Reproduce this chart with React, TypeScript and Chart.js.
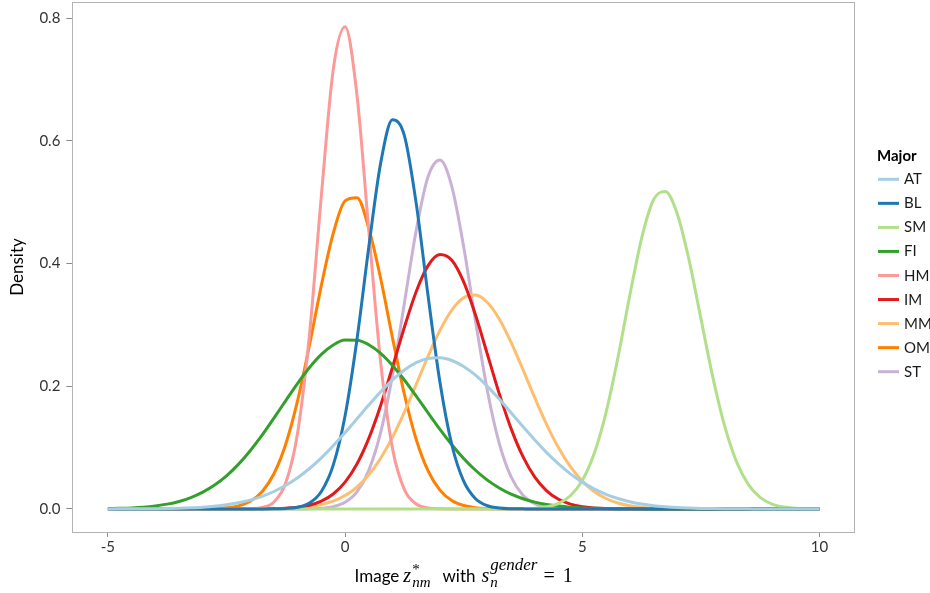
import React, { useEffect, useRef } from 'react';
import { Chart, registerables } from 'chart.js';

Chart.register(...registerables);

// ---------- data ----------
const xGrid = [
  -5, -4.75, -4.5, -4.25, -4, -3.75, -3.5, -3.25, -3, -2.75,
  -2.5, -2.25, -2, -1.75, -1.5, -1.25, -1, -0.75, -0.5, -0.25,
  0, 0.25, 0.5, 0.75, 1, 1.25, 1.5, 1.75, 2, 2.25,
  2.5, 2.75, 3, 3.25, 3.5, 3.75, 4, 4.25, 4.5, 4.75,
  5, 5.25, 5.5, 5.75, 6, 6.25, 6.5, 6.75, 7, 7.25,
  7.5, 7.75, 8, 8.25, 8.5, 8.75, 9, 9.25, 9.5, 9.75,
  10,
];

const AT = [
  0, 0.0001, 0.0001, 0.0002, 0.0004, 0.0007, 0.0011, 0.0018, 0.0028, 0.0044,
  0.0067, 0.0100, 0.0144, 0.0205, 0.0284, 0.0385, 0.0509, 0.0659, 0.0833, 0.1030,
  0.1244, 0.1468, 0.1693, 0.1909, 0.2103, 0.2264, 0.2383, 0.2450, 0.2463, 0.2419,
  0.2322, 0.2179, 0.1997, 0.1790, 0.1567, 0.1342, 0.1122, 0.0917, 0.0733, 0.0572,
  0.0437, 0.0326, 0.0237, 0.0169, 0.0118, 0.0080, 0.0053, 0.0035, 0.0022, 0.0014,
  0.0008, 0.0005, 0.0003, 0.0002, 0.0001, 0, 0, 0, 0, 0,
  0,
];

const BL = [
  0, 0, 0, 0, 0, 0, 0, 0, 0, 0,
  0, 0, 0, 0, 0.0001, 0.0007, 0.0028, 0.0097, 0.0285, 0.0713,
  0.1519, 0.2758, 0.4269, 0.5635, 0.6341, 0.6084, 0.4975, 0.3470, 0.2063, 0.1046,
  0.0452, 0.0166, 0.0052, 0.0014, 0.0003, 0.0001, 0, 0, 0, 0,
  0, 0, 0, 0, 0, 0, 0, 0, 0, 0,
  0, 0, 0, 0, 0, 0, 0, 0, 0, 0,
  0,
];

const SM = [
  0, 0, 0, 0, 0, 0, 0, 0, 0, 0,
  0, 0, 0, 0, 0, 0, 0, 0, 0, 0,
  0, 0, 0, 0, 0, 0, 0, 0, 0, 0,
  0, 0, 0, 0, 0.0001, 0.0003, 0.0011, 0.0034, 0.0090, 0.0215,
  0.0464, 0.0899, 0.1567, 0.2458, 0.3470, 0.4406, 0.5034, 0.5174, 0.4815, 0.4062,
  0.3109, 0.2157, 0.1358, 0.0775, 0.0401, 0.0188, 0.0080, 0.0031, 0.0011, 0.0003,
  0.0001,
];

const FI = [
  0.0005, 0.0010, 0.0017, 0.0029, 0.0049, 0.0078, 0.0122, 0.0185, 0.0273, 0.0389,
  0.0539, 0.0726, 0.0948, 0.1201, 0.1479, 0.1766, 0.2048, 0.2305, 0.2519, 0.2672,
  0.2751, 0.2750, 0.2676, 0.2536, 0.2339, 0.2101, 0.1838, 0.1565, 0.1297, 0.1047,
  0.0823, 0.0630, 0.0469, 0.0341, 0.0240, 0.0166, 0.0111, 0.0072, 0.0046, 0.0028,
  0.0017, 0.0010, 0.0006, 0.0003, 0.0002, 0.0001, 0, 0, 0, 0,
  0, 0, 0, 0, 0, 0, 0, 0, 0, 0,
  0,
];

const HM = [
  0, 0, 0, 0, 0, 0, 0, 0, 0, 0,
  0, 0, 0.0004, 0.0024, 0.0114, 0.0425, 0.1243, 0.2848, 0.5105, 0.7158,
  0.7856, 0.6749, 0.4538, 0.2387, 0.0983, 0.0316, 0.0080, 0.0016, 0.0002, 0,
  0, 0, 0, 0, 0, 0, 0, 0, 0, 0,
  0, 0, 0, 0, 0, 0, 0, 0, 0, 0,
  0, 0, 0, 0, 0, 0, 0, 0, 0, 0,
  0,
];

const IM = [
  0, 0, 0, 0, 0, 0, 0, 0, 0, 0,
  0, 0, 0, 0.0002, 0.0005, 0.0012, 0.0028, 0.0061, 0.0126, 0.0243,
  0.0436, 0.0732, 0.1149, 0.1686, 0.2311, 0.2960, 0.3544, 0.3965, 0.4146, 0.4052,
  0.3700, 0.3159, 0.2520, 0.1879, 0.1309, 0.0852, 0.0518, 0.0295, 0.0157, 0.0078,
  0.0036, 0.0016, 0.0006, 0.0002, 0.0001, 0, 0, 0, 0, 0,
  0, 0, 0, 0, 0, 0, 0, 0, 0, 0,
  0,
];

const MM = [
  0, 0, 0, 0, 0, 0, 0, 0, 0, 0,
  0, 0, 0.0001, 0.0002, 0.0004, 0.0009, 0.0019, 0.0038, 0.0071, 0.0128,
  0.0219, 0.0357, 0.0557, 0.0827, 0.1170, 0.1578, 0.2030, 0.2488, 0.2909, 0.3241,
  0.3442, 0.3485, 0.3364, 0.3095, 0.2715, 0.2270, 0.1810, 0.1375, 0.0996, 0.0688,
  0.0453, 0.0284, 0.0170, 0.0097, 0.0053, 0.0027, 0.0013, 0.0006, 0.0003, 0.0001,
  0, 0, 0, 0, 0, 0, 0, 0, 0, 0,
  0,
];

const OM = [
  0, 0, 0, 0, 0, 0, 0, 0, 0.0002, 0.0006,
  0.0018, 0.0049, 0.0124, 0.0280, 0.0573, 0.1059, 0.1770, 0.2671, 0.3644, 0.4490,
  0.5020, 0.5070, 0.4573, 0.3756, 0.2788, 0.1869, 0.1132, 0.0620, 0.0307, 0.0137,
  0.0055, 0.0020, 0.0007, 0.0002, 0, 0, 0, 0, 0, 0,
  0, 0, 0, 0, 0, 0, 0, 0, 0, 0,
  0, 0, 0, 0, 0, 0, 0, 0, 0, 0,
  0,
];

const ST = [
  0, 0, 0, 0, 0, 0, 0, 0, 0, 0,
  0, 0, 0, 0, 0, 0, 0, 0.0003, 0.0011, 0.0037,
  0.0108, 0.0278, 0.0628, 0.1246, 0.2179, 0.3353, 0.4542, 0.5416, 0.5685, 0.5253,
  0.4272, 0.3058, 0.1927, 0.1069, 0.0522, 0.0224, 0.0085, 0.0028, 0.0008, 0.0002,
  0, 0, 0, 0, 0, 0, 0, 0, 0, 0,
  0, 0, 0, 0, 0, 0, 0, 0, 0, 0,
  0,
];

const seriesNames = ['AT', 'BL', 'SM', 'FI', 'HM', 'IM', 'MM', 'OM', 'ST'];
const seriesValues = [AT, BL, SM, FI, HM, IM, MM, OM, ST];
const seriesColors = ['#a6cee3', '#1f78b4', '#b2df8a', '#33a02c', '#fb9a99', '#e31a1c', '#fdbf6f', '#ff7f00', '#cab2d6'];

const xTicks = [-5, 0, 5, 10];
const yTicks = [0, 0.2, 0.4, 0.6, 0.8];
const yTitle = 'Density';
const legendTitle = 'Major';

// ---------- styling ----------
const FONT = 'Lato, "Open Sans", sans-serif';
const MATH = '"Liberation Serif", "DejaVu Serif", serif';

const framePlugin = {
  id: 'frame',
  beforeDatasetsDraw(chart: any) {
    const { ctx, chartArea: a } = chart;
    ctx.save();
    ctx.strokeStyle = '#b3b3b3';
    ctx.lineWidth = 1;
    const l = Math.round(a.left) + 0.5;
    const t = Math.round(a.top) + 0.5;
    const r = Math.round(a.right) - 0.5;
    const b = Math.round(a.bottom) + 0.5;
    ctx.strokeRect(l, t, r - l, b - t);
    ctx.restore();
  },
};

// x-axis title "Image z*_nm with s_n^gender = 1", typeset with sub/superscripts
const xTitlePlugin = {
  id: 'xTitleMath',
  afterDraw(chart: any) {
    const { ctx, chartArea: a } = chart;
    const base = a.bottom + 50;
    const main = `17px ${FONT}`;
    const mathIt = `italic 20px ${MATH}`;
    const mathRm = `20px ${MATH}`;
    const scrIt = `italic 15px ${MATH}`;
    const supIt = `italic 17px ${MATH}`;
    const scrRm = `15px ${MATH}`;
    const groups = [
      { gap: 0, g: [{ t: 'Image', f: main, dy: 0 }] },
      { gap: 4, g: [{ t: 'z', f: mathIt, dy: 0 }] },
      { gap: 1, g: [{ t: '*', f: scrRm, dy: -8 }, { t: 'nm', f: scrIt, dy: 4.5 }] },
      { gap: 12, g: [{ t: 'with', f: main, dy: 0 }] },
      { gap: 6, g: [{ t: 's', f: mathIt, dy: 0 }] },
      { gap: 1, g: [{ t: 'gender', f: supIt, dy: -12 }, { t: 'n', f: scrIt, dy: 4.5 }] },
      { gap: 6, g: [{ t: '=', f: mathRm, dy: 0 }] },
      { gap: 8, g: [{ t: '1', f: mathRm, dy: 0 }] },
    ];
    ctx.save();
    ctx.fillStyle = '#000';
    ctx.textBaseline = 'alphabetic';
    ctx.textAlign = 'left';
    const widths = groups.map((grp) =>
      Math.max(...grp.g.map((p) => { ctx.font = p.f; return ctx.measureText(p.t).width; }))
    );
    const total = groups.reduce((s, grp, i) => s + grp.gap + widths[i], 0);
    let x = (a.left + a.right) / 2 - total / 2;
    groups.forEach((grp, i) => {
      x += grp.gap;
      grp.g.forEach((p) => {
        ctx.font = p.f;
        ctx.fillText(p.t, x, base + p.dy);
      });
      x += widths[i];
    });
    ctx.restore();
  },
};

const legendPlugin = {
  id: 'sideLegend',
  afterDraw(chart: any) {
    const { ctx, chartArea: a } = chart;
    const x0 = a.right + 23;
    ctx.save();
    ctx.textAlign = 'left';
    ctx.textBaseline = 'alphabetic';
    ctx.fillStyle = '#000';
    ctx.font = `bold 15px ${FONT}`;
    ctx.fillText(legendTitle, x0 - 1, a.top + 158.7);
    chart.data.datasets.forEach((ds: any, i: number) => {
      const y = a.top + 177.3 + i * 24.05;
      ctx.strokeStyle = ds.borderColor;
      ctx.lineWidth = 3;
      ctx.beginPath();
      ctx.moveTo(x0, y);
      ctx.lineTo(x0 + 21, y);
      ctx.stroke();
      ctx.fillStyle = '#1a1a1a';
      ctx.font = `15px ${FONT}`;
      ctx.fillText(ds.label, x0 + 26, y + 5);
    });
    ctx.restore();
  },
};

export default function App() {
  const ref = useRef<HTMLCanvasElement | null>(null);

  useEffect(() => {
    if (!ref.current) return;
    const chart = new Chart(ref.current, {
      type: 'line',
      data: {
        labels: xGrid,
        datasets: seriesNames.map((name, i) => ({
          label: name,
          data: seriesValues[i],
          borderColor: seriesColors[i],
          backgroundColor: seriesColors[i],
          borderWidth: 3,
          pointRadius: 0,
          pointHoverRadius: 0,
          fill: false,
          cubicInterpolationMode: 'monotone' as const,
        })),
      },
      options: {
        animation: false,
        responsive: false,
        events: [],
        layout: { padding: { top: 2, left: 0, right: 75, bottom: 36 } },
        plugins: {
          legend: { display: false },
          tooltip: { enabled: false },
          title: { display: false },
        },
        scales: {
          x: {
            type: 'linear',
            min: -5.75,
            max: 10.75,
            afterBuildTicks: (s: any) => { s.ticks = xTicks.map((v) => ({ value: v })); },
            afterFit: (s: any) => { s.paddingLeft = 0; s.paddingRight = 0; },
            ticks: {
              callback: (v: any) => String(v),
              font: { family: FONT, size: 15 },
              color: '#333333',
              padding: 1,
              maxRotation: 0,
              autoSkip: false,
            },
            grid: { display: true, drawOnChartArea: false, drawTicks: true, tickLength: 5, color: '#8c8c8c', tickColor: '#8c8c8c' },
            border: { display: false },
          },
          y: {
            type: 'linear',
            min: -0.0376,
            max: 0.8261,
            afterBuildTicks: (s: any) => { s.ticks = yTicks.map((v) => ({ value: v })); },
            afterFit: (s: any) => { s.paddingTop = 0; s.paddingBottom = 0; },
            ticks: {
              callback: (v: any) => Number(v).toFixed(1),
              font: { family: FONT, size: 15 },
              color: '#333333',
              padding: 6,
              autoSkip: false,
            },
            grid: { display: true, drawOnChartArea: false, drawTicks: true, tickLength: 6, color: '#8c8c8c', tickColor: '#8c8c8c' },
            border: { display: false },
            title: {
              display: true,
              text: yTitle,
              color: '#000',
              font: { family: FONT, size: 17 },
              padding: { top: 7, bottom: 6 },
            },
          },
        },
      },
      plugins: [framePlugin, xTitlePlugin, legendPlugin],
    });
    return () => chart.destroy();
  }, []);

  return (
    <div style={{ position: 'fixed', left: 0, top: 0, width: 930, height: 593, background: '#ffffff', overflow: 'hidden' }}>
      <canvas ref={ref} width={930} height={593} style={{ display: 'block' }} />
    </div>
  );
}
